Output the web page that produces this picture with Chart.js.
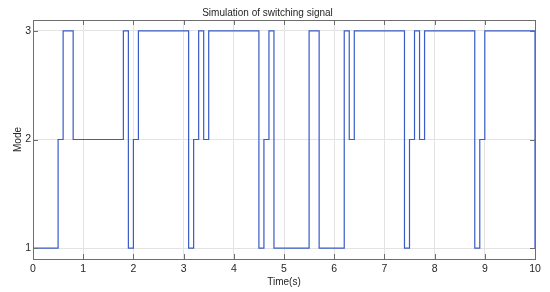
<!DOCTYPE html>
<html>
<head>
<meta charset="utf-8">
<script src="https://cdn.jsdelivr.net/npm/chart.js@4"></script>
<style>
  html, body { margin: 0; padding: 0; background: #fff; }
  #wrap { width: 550px; height: 292px; }
</style>
</head>
<body>
<div id="wrap"><canvas id="chart"></canvas></div>
<script>
// switching instants (s) and the mode held from each instant on
const switchTimes = [0, 0.5, 0.6, 0.8, 1.8, 1.9, 2.0, 2.1, 3.1, 3.2, 3.3, 3.4, 3.5, 4.5, 4.6, 4.7, 4.8,
    5.5, 5.7, 6.2, 6.3, 6.4, 7.4, 7.5, 7.6, 7.7, 7.8, 8.8, 8.9, 9.0, 10];
const modes = [1, 2, 3, 2, 3, 1, 2, 3, 1, 2, 3, 2, 3, 1, 2, 3, 1,
    3, 1, 3, 2, 3, 1, 2, 3, 2, 3, 1, 2, 3, 1];
const xTicks = [0, 1, 2, 3, 4, 5, 6, 7, 8, 9, 10];
const yTicks = [1, 2, 3];

const FONT = "'Liberation Sans', Arial, sans-serif";
const TEXT = "#262626";

// box around the plot plus inward tick marks, matlab style
const boxPlugin = {
    id: "box",
    afterDraw(chart) {
        const { ctx, chartArea: a, scales } = chart;
        ctx.save();
        ctx.strokeStyle = "#6e6e6e";
        ctx.lineWidth = 1;
        ctx.beginPath();
        xTicks.forEach(v => {
            const x = Math.round(scales.x.getPixelForValue(v)) + 0.5;
            ctx.moveTo(x, a.bottom); ctx.lineTo(x, a.bottom - 5);
            ctx.moveTo(x, a.top); ctx.lineTo(x, a.top + 5);
        });
        yTicks.forEach(v => {
            const y = Math.round(scales.y.getPixelForValue(v)) + 0.5;
            ctx.moveTo(a.left, y); ctx.lineTo(a.left + 5, y);
            ctx.moveTo(a.right, y); ctx.lineTo(a.right - 5, y);
        });
        ctx.stroke();
        ctx.strokeRect(Math.round(a.left) + 0.5, Math.round(a.top) + 0.5,
            Math.round(a.right - a.left), Math.round(a.bottom - a.top));
        ctx.restore();
    }
};

// autoSkip runs at the end of update and can drop ticks, so put them back
const fixTicks = list => s => { s.ticks = list.map(v => ({ value: v, label: String(v) })); };

new Chart(document.getElementById("chart"), {
    type: "line",
    data: {
        datasets: [{
            data: switchTimes.map((t, i) => ({ x: t, y: modes[i] })),
            stepped: "before",
            borderColor: "#3a5cc6",
            borderWidth: 1.2,
            pointRadius: 0,
            fill: false,
        }],
    },
    options: {
        responsive: true,
        maintainAspectRatio: false,
        animation: false,
        layout: { padding: { left: 0, right: 15, top: 0, bottom: 0 } },
        plugins: {
            legend: { display: false },
            tooltip: { enabled: false },
            title: {
                display: true,
                text: "Simulation of switching signal",
                color: TEXT,
                font: { family: FONT, size: 10, weight: "normal", lineHeight: 1.2 },
                padding: { top: 7, bottom: 1 },
            },
        },
        scales: {
            x: {
                type: "linear",
                min: 0,
                max: 10,
                afterBuildTicks: fixTicks(xTicks),
                afterUpdate: fixTicks(xTicks),
                afterFit: s => { s.height = 33; },
                grid: { color: "#e3e3e3", drawTicks: false },
                border: { display: false },
                ticks: { color: TEXT, padding: 4, maxRotation: 0, autoSkip: false, font: { family: FONT, size: 10.5 } },
                title: {
                    display: true,
                    text: "Time(s)",
                    color: TEXT,
                    font: { family: FONT, size: 10 },
                    padding: { top: 0, bottom: 4 },
                },
            },
            y: {
                min: 0.9,
                max: 3.1,
                afterBuildTicks: fixTicks(yTicks),
                afterUpdate: fixTicks(yTicks),
                afterFit: s => { s.width = 33; },
                grid: { color: "#e3e3e3", drawTicks: false },
                border: { display: false },
                ticks: { color: TEXT, padding: 2, autoSkip: false, font: { family: FONT, size: 10.5 } },
                title: {
                    display: true,
                    text: "Mode",
                    color: TEXT,
                    font: { family: FONT, size: 10 },
                    padding: { top: 12, bottom: 0 },
                },
            },
        },
    },
    plugins: [boxPlugin],
});
</script>
</body>
</html>
